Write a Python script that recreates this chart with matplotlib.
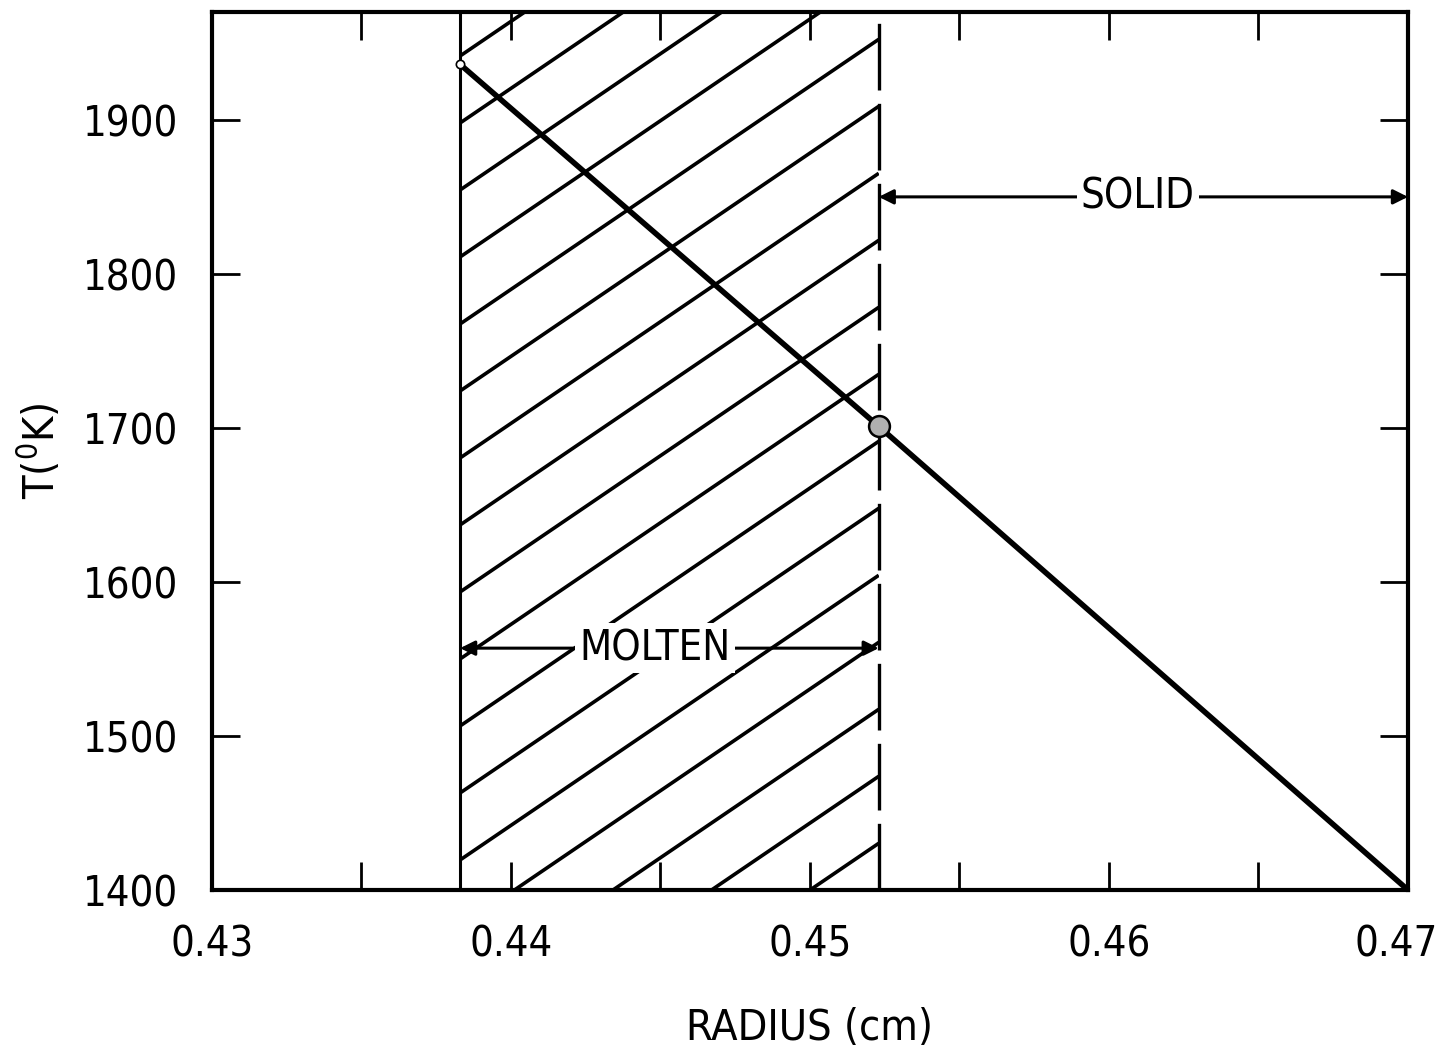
import numpy as np
import matplotlib
matplotlib.use('Agg')
import matplotlib.pyplot as plt
import matplotlib.transforms as mtransforms
from matplotlib.patches import Rectangle

plt.rcParams.update({
    'font.family': ['DejaVu Sans'],
    'font.stretch': 'condensed',
    'mathtext.fontset': 'dejavusans',
})

# data
radius = [0.4383, 0.4523, 0.47]
temp = [1936, 1701, 1400]
molten_left = 0.4383
molten_right = 0.4523
x_ticks = [0.43, 0.435, 0.44, 0.445, 0.45, 0.455, 0.46, 0.465, 0.47]
x_labels = ['0.43', '', '0.44', '', '0.45', '', '0.46', '', '0.47']
y_ticks = [1400, 1500, 1600, 1700, 1800, 1900]
solid_y = 1850
molten_y = 1557

# hatch settings (slope in K/cm, spacing in K)
hatch_slope = 13200
hatch_step = 43.5
hatch_start = 1419.5

fig = plt.figure(figsize=(14.42, 10.48), dpi=100)
ax = fig.add_axes([0.147, 0.1508, 0.8294, 0.8377])
ax.set_xlim(0.43, 0.47)
ax.set_ylim(1400, 1970)

# hatching of molten zone
clip = Rectangle((molten_left, 1400), molten_right - molten_left, 570,
                 transform=ax.transData, facecolor='none', edgecolor='none')
ax.add_patch(clip)
offsets = np.concatenate([np.arange(hatch_start, 1970, hatch_step),
                          np.arange(hatch_start - hatch_step, 1200, -hatch_step)])
for y0 in offsets:
    xs = np.array([molten_left, molten_right])
    ys = y0 + hatch_slope * (xs - molten_left)
    ln, = ax.plot(xs, ys, color='black', lw=2.6, solid_capstyle='butt')
    ln.set_clip_path(clip)

ax.axvline(molten_left, color='black', lw=2.2)
ax.axvline(molten_right, color='black', lw=2.4, linestyle=(0, (20, 4)))

# temperature profile
ax.plot(radius, temp, color='black', lw=4, zorder=4)
ax.plot(radius[0], temp[0], 'o', ms=6, mfc='white', mec='black', mew=1.2, zorder=5)
ax.plot(radius[1], temp[1], 'o', ms=15, mfc='#b0b0b0', mec='black', mew=1.8, zorder=5)

# annotations
arrow = dict(arrowstyle='<|-|>', color='black', lw=2.2, mutation_scale=22,
             shrinkA=0, shrinkB=0)
ax.annotate('', xy=(molten_right, solid_y), xytext=(0.47, solid_y), arrowprops=arrow)
ax.text(0.46097, solid_y, 'SOLID', fontsize=30, ha='center', va='center', zorder=6,
        bbox=dict(facecolor='white', edgecolor='none', pad=3))
ax.annotate('', xy=(molten_left, molten_y), xytext=(molten_right, molten_y), arrowprops=arrow)
ax.text(0.44482, molten_y, 'MOLTEN', fontsize=30, ha='center', va='center', zorder=6,
        bbox=dict(facecolor='white', edgecolor='none', pad=3))

# axes styling
ax.set_xticks(x_ticks)
ax.set_xticklabels(x_labels)
ax.set_yticks(y_ticks)
ax.tick_params(direction='in', length=20, width=2, top=True, right=True,
               labelsize=30)
ax.tick_params(axis='x', pad=24)
ax.tick_params(axis='y', pad=24)
for s in ax.spines.values():
    s.set_linewidth(3)

# nudge the last x label so it stays inside the figure
last = ax.get_xticklabels()[-1]
last.set_transform(last.get_transform() +
                   mtransforms.ScaledTranslation(-0.12, 0, fig.dpi_scale_trans))

ax.set_xlabel('RADIUS (cm)', fontsize=31, labelpad=30)
ax.set_ylabel('T($^{0}$K)', fontsize=31, labelpad=14)

plt.savefig('out.png', dpi=100, facecolor='white')
